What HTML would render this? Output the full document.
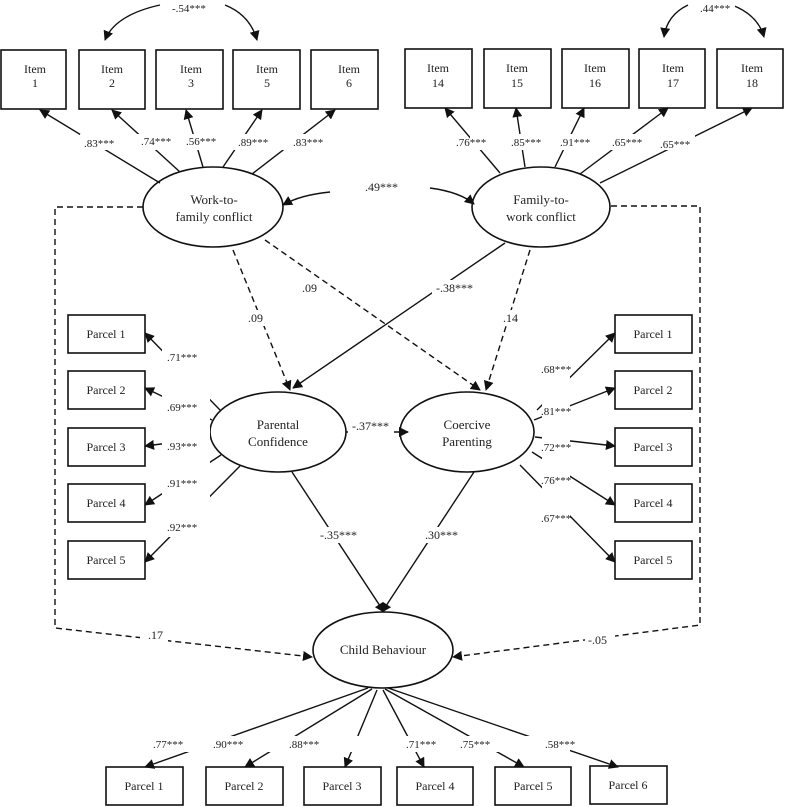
<!DOCTYPE html>
<html><head><meta charset="utf-8"><style>
html,body{margin:0;padding:0;background:#fff}
svg{display:block}
text{font-family:"Liberation Serif",serif;fill:#222}
.s{font-size:11px;fill:#444}
.n{font-size:12px}
.b{font-size:13px}
</style></head><body>
<svg width="785" height="807" viewBox="0 0 785 807" xmlns="http://www.w3.org/2000/svg">
<defs>
<marker id="a" markerWidth="10" markerHeight="10" refX="9" refY="5" orient="auto" markerUnits="userSpaceOnUse"><path d="M0,0 L10,5 L0,10 z" fill="#111"/></marker>
</defs>
<g fill="none" stroke="#111" stroke-width="1.6">
<!-- top boxes -->
<rect x="1" y="50" width="65" height="59"/><rect x="79" y="50" width="66" height="59"/><rect x="156" y="50" width="67" height="59"/><rect x="233" y="50" width="67" height="59"/><rect x="311" y="50" width="67" height="59"/>
<rect x="405" y="49" width="67" height="59"/><rect x="484" y="49" width="67" height="59"/><rect x="562" y="49" width="67" height="59"/><rect x="639" y="49" width="66" height="59"/><rect x="717" y="49" width="66" height="59"/>
<!-- ellipses -->
<ellipse cx="213" cy="207" rx="70" ry="40"/><ellipse cx="541" cy="207" rx="69" ry="40"/>
<ellipse cx="278" cy="432" rx="68" ry="40"/><ellipse cx="467" cy="432" rx="67" ry="40"/>
<ellipse cx="383" cy="650" rx="70" ry="38"/>
<!-- parcels -->
<rect x="68" y="315" width="77" height="38"/><rect x="68" y="371" width="77" height="38"/><rect x="68" y="428" width="77" height="38"/><rect x="68" y="484" width="77" height="38"/><rect x="68" y="541" width="77" height="38"/>
<rect x="615" y="315" width="77" height="38"/><rect x="615" y="371" width="77" height="38"/><rect x="615" y="428" width="77" height="38"/><rect x="615" y="484" width="77" height="38"/><rect x="615" y="541" width="77" height="38"/>
<rect x="106" y="767" width="77" height="38"/><rect x="206" y="767" width="77" height="38"/><rect x="304" y="767" width="77" height="38"/><rect x="397" y="767" width="76" height="38"/><rect x="495" y="767" width="76" height="38"/><rect x="590" y="766" width="77" height="38"/>
</g>
<g fill="none" stroke="#111" stroke-width="1.4" marker-end="url(#a)">
<!-- correlations -->
<path d="M160,5 Q115,15 105,40"/><path d="M225,5 Q250,15 257,40"/>
<path d="M688,5 Q667,15 664,37"/><path d="M732,5 Q758,15 764,37"/>
<path d="M330,192 Q300,195 283,205"/><path d="M430,188 Q460,192 474,204"/>
<!-- top loadings -->
<line x1="160" y1="183" x2="40" y2="110"/><line x1="180" y1="172" x2="112" y2="110"/><line x1="203" y1="167" x2="186" y2="110"/><line x1="223" y1="167" x2="262" y2="110"/><line x1="252" y1="174" x2="335" y2="110"/>
<line x1="500" y1="173" x2="445" y2="108"/><line x1="525" y1="167" x2="516" y2="108"/><line x1="555" y1="167" x2="584" y2="108"/><line x1="580" y1="174" x2="668" y2="108"/><line x1="600" y1="183" x2="752" y2="108"/>
<!-- structural -->
<line x1="505" y1="243" x2="293" y2="388"/>
<line x1="346" y1="432" x2="408" y2="432"/>
<line x1="292" y1="472" x2="384" y2="612"/><line x1="474" y1="472" x2="382" y2="612"/>
<!-- left parcel loadings -->
<line x1="220" y1="410" x2="145" y2="333"/><line x1="212" y1="420" x2="145" y2="388"/><line x1="210" y1="438" x2="145" y2="446"/><line x1="221" y1="455" x2="145" y2="505"/><line x1="240" y1="466" x2="145" y2="562"/>
<line x1="537" y1="410" x2="615" y2="333"/><line x1="534" y1="420" x2="615" y2="388"/><line x1="535" y1="437" x2="615" y2="446"/><line x1="532" y1="452" x2="615" y2="505"/><line x1="520" y1="465" x2="615" y2="562"/>
<!-- bottom loadings -->
<line x1="368" y1="688" x2="145" y2="767"/><line x1="372" y1="689" x2="245" y2="767"/><line x1="377" y1="690" x2="345" y2="767"/><line x1="383" y1="690" x2="424" y2="767"/><line x1="385" y1="689" x2="524" y2="767"/><line x1="388" y1="688" x2="618" y2="767"/>
</g>
<g fill="none" stroke="#111" stroke-width="1.4" stroke-dasharray="6,4" marker-end="url(#a)">
<line x1="233" y1="250" x2="290" y2="390"/>
<line x1="265" y1="240" x2="480" y2="390"/>
<line x1="530" y1="250" x2="486" y2="390"/>
<path d="M143,207 L55,207 L55,628 L312,657"/>
<path d="M611,206 L700,206 L700,625 L453,657"/>
</g>
<!-- label backgrounds + labels -->
<g fill="#fff">
<rect x="170" y="1" width="40" height="14"/><rect x="697" y="1" width="38" height="14"/>
<rect x="360" y="180" width="45" height="14"/>
<rect x="80" y="134" width="300" height="16"/><rect x="470" y="134" width="225" height="16"/>
<rect x="245" y="310" width="22" height="16"/><rect x="298" y="280" width="24" height="16"/><rect x="500" y="310" width="22" height="16"/><rect x="432" y="280" width="46" height="16"/>
<rect x="348" y="418" width="46" height="16"/><rect x="316" y="527" width="40" height="16"/><rect x="423" y="527" width="40" height="16"/>
<rect x="162" y="347" width="48" height="190"/><rect x="542" y="360" width="28" height="168"/>
<rect x="140" y="627" width="28" height="16"/><rect x="585" y="632" width="30" height="16"/>
<rect x="150" y="736" width="420" height="16"/>
</g>
<g class="s">
<text x="172" y="12">-.54***</text><text x="700" y="12">.44***</text>
<text x="365" y="191" font-size="12">.49***</text>
<text x="84" y="147">.83***</text><text x="141" y="145">.74***</text><text x="186" y="145">.56***</text><text x="238" y="146">.89***</text><text x="293" y="146">.83***</text>
<text x="456" y="146">.76***</text><text x="511" y="146">.85***</text><text x="560" y="146">.91***</text><text x="612" y="146">.65***</text><text x="660" y="148">.65***</text>
<text x="167" y="361">.71***</text><text x="167" y="411">.69***</text><text x="167" y="450">.93***</text><text x="167" y="487">.91***</text><text x="167" y="531">.92***</text>
<text x="541" y="373">.68***</text><text x="541" y="415">.81***</text><text x="541" y="451">.72***</text><text x="541" y="484">.76***</text><text x="541" y="522">.67***</text>
<text x="153" y="748">.77***</text><text x="213" y="748">.90***</text><text x="289" y="748">.88***</text><text x="406" y="748">.71***</text><text x="460" y="748">.75***</text><text x="545" y="748">.58***</text>
</g>
<g class="n">
<text x="248" y="322">.09</text><text x="302" y="292">.09</text><text x="503" y="322">.14</text><text x="436" y="292">-.38***</text>
<text x="352" y="430">-.37***</text><text x="320" y="539">-.35***</text><text x="425" y="539">.30***</text>
<text x="148" y="639">.17</text><text x="588" y="644">-.05</text>
</g>
<g class="n" text-anchor="middle">
<text x="35" y="73">Item</text><text x="35" y="87">1</text>
<text x="112" y="73">Item</text><text x="112" y="87">2</text>
<text x="191" y="73">Item</text><text x="191" y="87">3</text>
<text x="267" y="73">Item</text><text x="267" y="87">5</text>
<text x="349" y="73">Item</text><text x="349" y="87">6</text>
<text x="438" y="72">Item</text><text x="438" y="87">14</text>
<text x="517" y="72">Item</text><text x="517" y="87">15</text>
<text x="595" y="72">Item</text><text x="595" y="87">16</text>
<text x="673" y="72">Item</text><text x="673" y="87">17</text>
<text x="752" y="72">Item</text><text x="752" y="87">18</text>
<text x="106" y="338">Parcel 1</text><text x="106" y="394">Parcel 2</text><text x="106" y="451">Parcel 3</text><text x="106" y="507">Parcel 4</text><text x="106" y="564">Parcel 5</text>
<text x="653" y="338">Parcel 1</text><text x="653" y="394">Parcel 2</text><text x="653" y="451">Parcel 3</text><text x="653" y="507">Parcel 4</text><text x="653" y="564">Parcel 5</text>
<text x="144" y="790">Parcel 1</text><text x="244" y="790">Parcel 2</text><text x="342" y="790">Parcel 3</text><text x="435" y="790">Parcel 4</text><text x="533" y="790">Parcel 5</text><text x="628" y="789">Parcel 6</text>
</g>
<g class="b" text-anchor="middle">
<text x="214" y="204">Work-to-</text><text x="214" y="221">family conflict</text>
<text x="541" y="204">Family-to-</text><text x="541" y="221">work conflict</text>
<text x="278" y="429">Parental</text><text x="278" y="446">Confidence</text>
<text x="467" y="429">Coercive</text><text x="467" y="446">Parenting</text>
<text x="383" y="654">Child Behaviour</text>
</g>
</svg>
</body></html>
